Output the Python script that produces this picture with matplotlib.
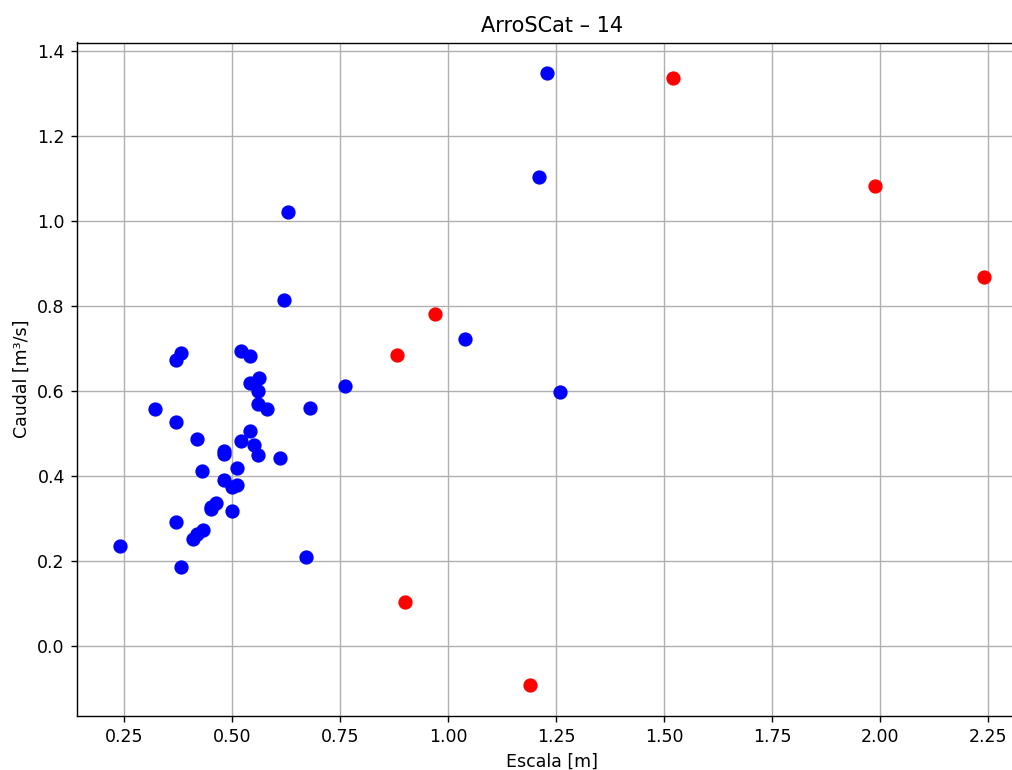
import matplotlib

matplotlib.use("Agg")

import matplotlib.pyplot as plt

# Escala [m] / Caudal [m³/s] - puntos válidos
escala_ok = [
    0.380, 0.370, 0.520, 0.541, 0.561, 0.540, 0.560, 0.760, 0.320, 0.559,
    0.580, 0.680, 0.370, 0.540, 0.419, 0.520, 0.549, 0.480, 0.480, 0.560,
    0.610, 0.510, 0.430, 0.480, 0.510, 0.500, 0.461, 0.450, 0.450, 0.500,
    0.370, 0.431, 0.419, 0.409, 0.240, 0.670, 0.380,
    1.230, 1.211, 0.629, 0.620, 1.039, 1.260,
]
caudal_ok = [
    0.690, 0.673, 0.694, 0.683, 0.631, 0.620, 0.600, 0.612, 0.557, 0.569,
    0.557, 0.560, 0.528, 0.507, 0.486, 0.482, 0.472, 0.459, 0.451, 0.449,
    0.442, 0.418, 0.411, 0.390, 0.380, 0.373, 0.337, 0.328, 0.322, 0.318,
    0.291, 0.273, 0.264, 0.251, 0.235, 0.210, 0.185,
    1.348, 1.104, 1.021, 0.814, 0.722, 0.598,
]

# puntos descartados
escala_out = [1.520, 1.990, 2.241, 0.969, 0.881, 0.899, 1.190]
caudal_out = [1.336, 1.082, 0.868, 0.781, 0.685, 0.104, -0.092]

fig = plt.figure(figsize=(1013 / 125, 770 / 125), dpi=125)
# the axes run past the right edge of the canvas
ax = fig.add_axes([77 / 1013, 54.3 / 770, 950 / 1013, 673.2 / 770])

ax.scatter(escala_ok, caudal_ok, color="blue", s=52, zorder=3)
ax.scatter(escala_out, caudal_out, color="red", s=52, zorder=3)

ax.set_title("ArroSCat – 14")
ax.set_xlabel("Escala [m]")
ax.set_ylabel("Caudal [m³/s]")
ax.grid(True)
ax.set_axisbelow(True)

fig.savefig("out.png", dpi=125)
plt.close(fig)
